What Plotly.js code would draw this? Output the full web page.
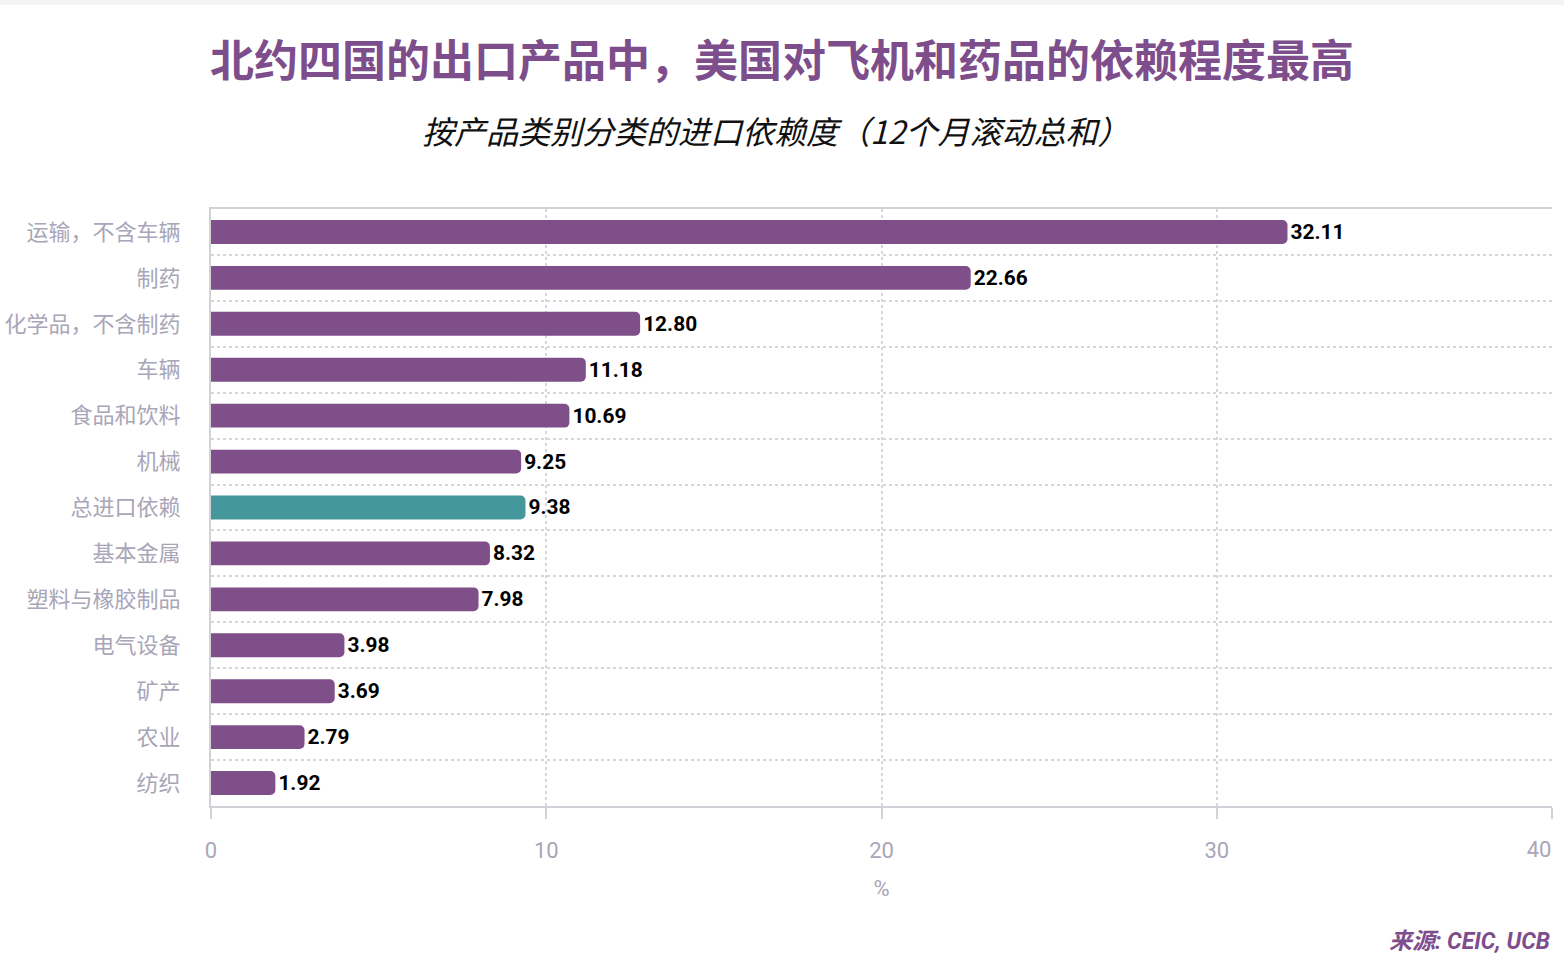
<!DOCTYPE html>
<html>
<head>
<meta charset="utf-8">
<script src="https://cdn.plot.ly/plotly-3.0.1.min.js"></script>
<style>
  html, body { margin: 0; padding: 0; background: #ffffff; }
  #band { height: 5px; background: #f3f3f5; }
  #chart { width: 1564px; height: 967px; }
</style>
</head>
<body>
<div id="band"></div>
<div id="chart"></div>
<script>
const categories = ["运输，不含车辆", "制药", "化学品，不含制药", "车辆", "食品和饮料", "机械", "总进口依赖", "基本金属", "塑料与橡胶制品", "电气设备", "矿产", "农业", "纺织"];
const values = [32.11, 22.66, 12.80, 11.18, 10.69, 9.25, 9.38, 8.32, 7.98, 3.98, 3.69, 2.79, 1.92];
const highlight = "总进口依赖";
const xTicks = [0, 10, 20, 30, 40];

const purple = "#7f4f8a";
const teal = "#44979a";
const gray = "#a8a6b8";
const lineGray = "#d2d1d8";
const gridGray = "#d6d6dc";
const FONT = "Roboto, 'Noto Sans CJK SC', sans-serif";

const H = 967;
const plotTop = 204, plotBottom = 801;   // div pixels
const plotH = plotBottom - plotTop;

const lastTick = xTicks[xTicks.length - 1];

const trace = {
  type: "bar",
  orientation: "h",
  x: values,
  y: categories,
  marker: { color: categories.map(c => c === highlight ? teal : purple), cornerradius: 5 },
  text: values.map(v => v.toFixed(2)),
  textposition: "outside",
  cliponaxis: false,
  textfont: { family: FONT, size: 21, color: "#000000", weight: 700 },
  hoverinfo: "x+y"
};

// invisible helper trace on the overlay axis so that it is drawn
const helper = {
  type: "scatter",
  mode: "markers",
  x: [lastTick],
  y: [categories[0]],
  xaxis: "x2",
  yaxis: "y",
  marker: { opacity: 0, size: 1 },
  hoverinfo: "skip",
  showlegend: false
};

const tickFont = { family: FONT, size: 22, color: gray };

const layout = {
  width: 1564,
  height: H,
  paper_bgcolor: "#ffffff",
  plot_bgcolor: "#ffffff",
  margin: { l: 211, r: 12, t: plotTop, b: H - plotBottom },
  bargap: 0.48,
  showlegend: false,
  font: { family: FONT },
  title: {
    text: "北约四国的出口产品中，美国对飞机和药品的依赖程度最高",
    font: { family: "'Noto Sans CJK SC', sans-serif", size: 44, color: "#7d4e8b", weight: 700 },
    x: 0.5, xref: "container", xanchor: "center",
    y: 1 - 57 / H, yref: "container", yanchor: "middle"
  },
  xaxis: {
    range: [0, lastTick],
    tickvals: xTicks,
    ticktext: xTicks.map(t => t === lastTick ? "" : String(t)),
    showgrid: true,
    gridcolor: gridGray,
    griddash: "dot",
    gridwidth: 2,
    zeroline: false,
    showline: true,
    linecolor: lineGray,
    linewidth: 2,
    mirror: true,
    ticks: "outside",
    ticklen: 11,
    tickwidth: 2,
    tickcolor: lineGray,
    ticklabelstandoff: 13,
    tickfont: tickFont,
    title: { text: "%", font: { family: FONT, size: 22, color: gray }, standoff: 18 },
    fixedrange: true
  },
  // overlay axis carrying only the last tick label, pulled inward as in the reference
  xaxis2: {
    overlaying: "x",
    anchor: "y",
    side: "bottom",
    range: [0, lastTick],
    tickvals: [lastTick],
    ticktext: [String(lastTick)],
    ticklabelshift: -13,
    ticklabeloverflow: "allow",
    showgrid: false,
    zeroline: false,
    showline: false,
    ticks: "outside",
    ticklen: 11,
    tickcolor: "rgba(0,0,0,0)",
    ticklabelstandoff: 13,
    tickfont: tickFont,
    fixedrange: true
  },
  yaxis: {
    type: "category",
    categoryorder: "array",
    categoryarray: categories,
    autorange: false,
    range: [categories.length - 0.5, -0.5],
    tickson: "boundaries",
    showgrid: true,
    gridcolor: gridGray,
    griddash: "dot",
    gridwidth: 2,
    zeroline: false,
    showline: true,
    linecolor: lineGray,
    linewidth: 2,
    ticks: "",
    ticklabelstandoff: 24,
    tickfont: { family: "'Noto Sans CJK SC', sans-serif", size: 22, color: gray },
    fixedrange: true
  },
  annotations: [
    {
      text: "<i>按产品类别分类的进口依赖度（12个月滚动总和）</i>",
      xref: "paper", yref: "paper",
      x: (776 - 211) / 1341, y: 1 + (plotTop - 125) / plotH,
      xanchor: "center", yanchor: "middle",
      showarrow: false,
      font: { family: "'Noto Sans CJK SC', sans-serif", size: 32, color: "#111111" }
    },
    {
      text: "<b><i>来源: CEIC, UCB</i></b>",
      xref: "paper", yref: "paper",
      x: 1, y: -(936 - plotBottom) / plotH,
      xanchor: "right", yanchor: "middle",
      showarrow: false,
      font: { family: FONT, size: 23, color: "#7d4e8b" }
    }
  ]
};

Plotly.newPlot("chart", [trace, helper], layout, { displayModeBar: false, staticPlot: true });
</script>
</body>
</html>
